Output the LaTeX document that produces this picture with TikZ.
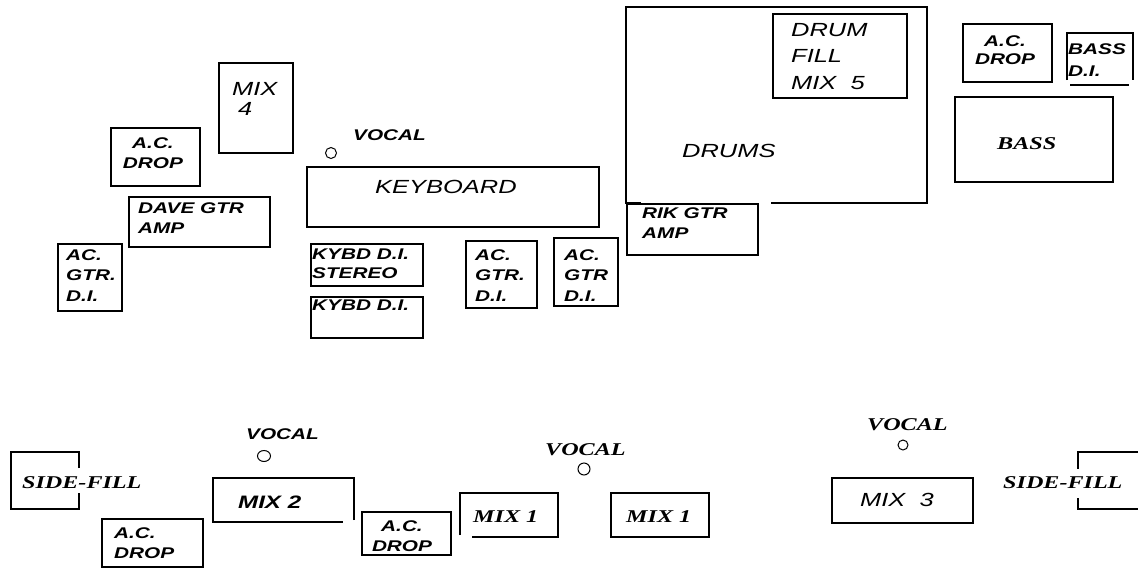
\documentclass[tikz,border=0pt]{standalone}
\usepackage{fontspec}
\newfontfamily\stagesans[FakeStretch=1.34]{Liberation Sans}
\newfontfamily\stageserif[FakeStretch=1.34]{Liberation Serif}
\newcommand\labsb{\stagesans\bfseries\itshape\fontsize{15.5}{20.5}\selectfont}
\newcommand\labsi{\stagesans\itshape\fontsize{19}{20}\selectfont}
\newcommand\labrb{\stageserif\bfseries\itshape\fontsize{18}{22}\selectfont}
\tikzset{
  gear/.style={line width=1.5pt, black},
  tag/.style={inner sep=0pt, anchor=north west, align=left, font=\labsb},
  tagmid/.style={tag, anchor=north, align=center},
  plain/.style={tag, font=\labsi},
  serif/.style={tag, font=\labrb},
  mic/.style={line width=1pt, black}
}

\begin{document}
\begin{tikzpicture}[x=1pt, y=-1pt]
  \useasboundingbox (0,0) rectangle (1138,568);
  % upstage: left side
  \draw[gear] (219,63) rectangle (293,153);
  \draw[gear] (111,128) rectangle (200,186);
  \draw[gear] (129,197) rectangle (270,247);
  \draw[gear] (58,244) rectangle (122,311);
  \node[plain] (mixfour) at (232,82) {MIX\\\hspace*{6pt}4};
  \node[tagmid] (acdroptl) at (153,137) {A.C.\\DROP};
  \node[tag] (davegtr) at (138,202) {DAVE GTR\\AMP};
  \node[tag] (acgtrl) at (66,249) {AC.\\GTR.\\D.I.};
  % keyboard and its D.I.s
  \draw[gear] (307,167) rectangle (599,227);
  \draw[gear] (311,244) rectangle (423,286);
  \draw[gear] (311,297) rectangle (423,338);
  \draw[gear] (466,241) rectangle (537,308);
  \draw[gear] (554,238) rectangle (618,306);
  \draw[mic] (331,153) circle[radius=5.5pt];
  \node[tag] (vocaltop) at (353,129) {VOCAL};
  \node[plain] (keyboard) at (375,180) {KEYBOARD};
  \node[tag] (kybdst) at (312,249) {KYBD D.I.\\[-1.5pt]STEREO};
  \node[tag] (kybd) at (312,300) {KYBD D.I.};
  \node[tag] (acgtrm) at (475,249) {AC.\\GTR.\\D.I.};
  \node[tag] (acgtrr) at (564,249) {AC.\\GTR\\D.I.};
  % drum riser, the gap in its lower edge is where the amp sits
  \draw[gear] (641,203) -- (626,203) -- (626,7) -- (927,7) -- (927,203) -- (771,203);
  \draw[gear] (773,14) rectangle (907,98);
  \draw[gear] (627,204) rectangle (758,255);
  \node[plain] (drumfill) at (791,23) {DRUM\\[6.5pt]FILL\\[6.5pt]MIX\ \ 5};
  \node[plain] (drums) at (682,144) {DRUMS};
  \node[tag] (rikgtr) at (642,207) {RIK GTR\\AMP};
  % bass corner
  \draw[gear] (963,24) rectangle (1052,82);
  \draw[gear] (1067,80) -- (1067,33) -- (1133,33) -- (1133,80);
  \draw[gear] (1070,85) -- (1129,85);
  \draw[gear] (955,97) rectangle (1113,182);
  \node[tagmid] (acdroptr) at (1005,35) {A.C.\\[-2.5pt]DROP};
  \node[tag] (bassdi) at (1068,43) {BASS\\[1.5pt]D.I.};
  \node[serif] (bass) at (997,137) {BASS};
  % downstage
  \draw[gear] (79,468) -- (79,452) -- (11,452) -- (11,509) -- (79,509) -- (79,493);
  \node[serif] (sidefilll) at (22,476) {SIDE-FILL};
  \draw[mic] (264,456) ellipse[x radius=6.5pt, y radius=5.5pt];
  \node[tag] (vocalbl) at (246,428) {VOCAL};
  \draw[gear] (354,520) -- (354,478) -- (213,478) -- (213,522) -- (343,522);
  \node[tag, font=\stagesans\bfseries\itshape\fontsize{18}{20}\selectfont] (mixtwo) at (238,496) {MIX 2};
  \draw[gear] (102,519) rectangle (203,567);
  \node[tag] (acdropbl) at (114,527) {A.C.\\DROP};
  \draw[gear] (362,512) rectangle (451,555);
  \node[tagmid] (acdropbm) at (402,520) {A.C.\\DROP};
  \draw[mic] (584,469) circle[radius=6pt];
  \node[serif] (vocalm) at (545,443) {VOCAL};
  \draw[gear] (460,535) -- (460,493) -- (558,493) -- (558,537) -- (472,537);
  \node[serif] (mixonel) at (473,510) {MIX 1};
  \draw[gear] (611,493) rectangle (709,537);
  \node[serif] (mixoner) at (626,510) {MIX 1};
  \draw[mic] (903,445) circle[radius=5pt];
  \node[serif] (vocalr) at (867,418) {VOCAL};
  \draw[gear] (832,478) rectangle (973,523);
  \node[plain] (mixthree) at (860,493) {MIX\ \ 3};
  \draw[gear] (1138,452) -- (1078,452) -- (1078,469);
  \draw[gear] (1078,498) -- (1078,509) -- (1138,509);
  \node[serif] (sidefillr) at (1003,476) {SIDE-FILL};
\end{tikzpicture}
\end{document}
